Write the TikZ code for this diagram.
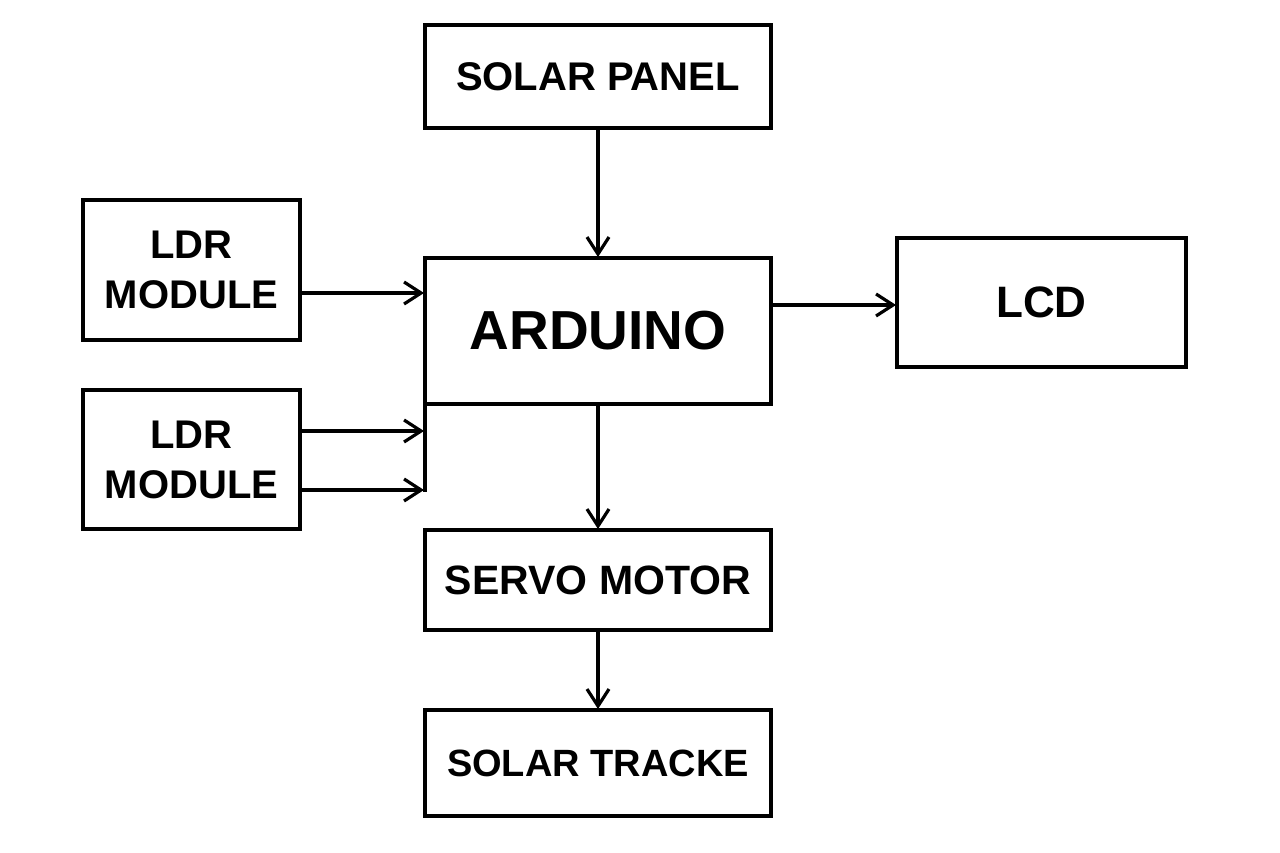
\documentclass[tikz,border=0pt]{standalone}
\usepackage{fontspec}
\setmainfont{Liberation Sans}
\usetikzlibrary{arrows.meta}
\begin{document}
\begin{tikzpicture}[x=1pt,y=-1pt,
  box/.style={draw=black, line width=3.2pt, fill=white, inner sep=0pt, outer sep=0pt, align=center,
    font=\bfseries\fontsize{40}{50}\selectfont},
  arr/.style={line width=3.2pt, -{Straight Barb[length=17pt,width=22pt,line width=3.2pt]}, shorten >=1pt},
  ln/.style={line width=3.2pt}]
\useasboundingbox[fill=white] (0,0) rectangle (1280,853);
\node[box, minimum width=346pt, minimum height=103pt] (solar) at (598,76.5) {SOLAR PANEL};
\node[box, minimum width=346pt, minimum height=146pt, font=\bfseries\fontsize{55}{60}\selectfont] (ard) at (598,331) {ARDUINO};
\node[box, minimum width=289pt, minimum height=129pt, font=\bfseries\fontsize{44}{50}\selectfont] (lcd) at (1041.5,302.5) {LCD};
\node[box, minimum width=217pt, minimum height=140pt] (ldra) at (191.5,270) {LDR\\MODULE};
\node[box, minimum width=217pt, minimum height=139pt] (ldrb) at (191.5,459.5) {LDR\\MODULE};
\node[box, minimum width=346pt, minimum height=100pt, font=\bfseries\fontsize{41}{50}\selectfont] (servo) at (598,580) {SERVO MOTOR};
\node[box, minimum width=346pt, minimum height=106pt, font=\bfseries\fontsize{38}{50}\selectfont] (track) at (598,763) {SOLAR TRACKE};
\coordinate (y1) at (0,293);
\coordinate (y2) at (0,431);
\coordinate (y3) at (0,490);
\coordinate (y4) at (0,305);
\draw[arr] (solar.south) -- (ard.north);
\draw[arr] (ldra.east |- y1) -- (ard.west |- y1);
\draw[arr] (ard.east |- y4) -- (lcd.west |- y4);
\draw[ln, line cap=rect] (ard.south west) -- (ard.west |- y3);
\draw[arr] (ldrb.east |- y2) -- (ard.west |- y2);
\draw[arr] (ldrb.east |- y3) -- (ard.west |- y3);
\draw[arr] (ard.south) -- (servo.north);
\draw[arr] (servo.south) -- (track.north);
\end{tikzpicture}
\end{document}
